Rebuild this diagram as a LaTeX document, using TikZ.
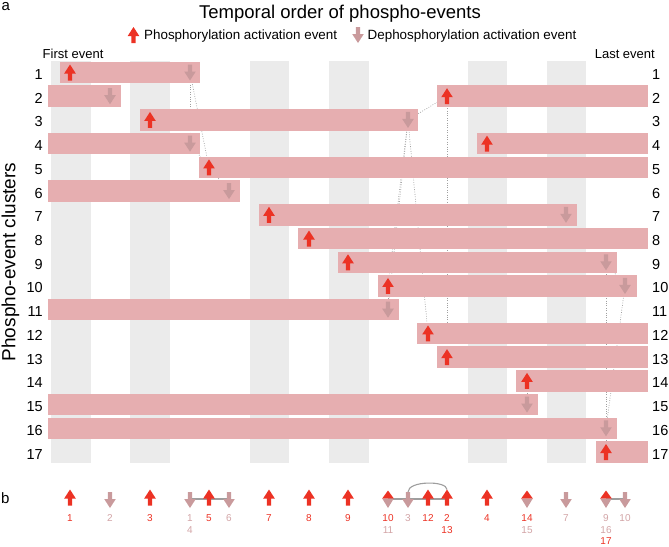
\documentclass[tikz,border=0pt]{standalone}
\usepackage{fontspec}
\setmainfont{Liberation Sans}
\definecolor{upred}{HTML}{EC3224}
\definecolor{dnpink}{HTML}{C99A9C}
\definecolor{barpink}{HTML}{E6AEB0}
\definecolor{stripegray}{HTML}{EBEBEB}
\definecolor{dotgray}{HTML}{A0A0A0}
\definecolor{linegray}{HTML}{9E9E9E}
\definecolor{lblpink}{HTML}{D2A4A6}
\newcommand\RY[1]{72.5+23.72*(#1-1)}
\newcommand\mkbar[4]{\node[bar, minimum width={(#3-#2)*1pt}] (#1) at ({(#2+#3)/2},{\RY{#4}}) {};}
\newcommand\ev[3]{\coordinate (#1) at (#2,{\RY{#3}});}
\begin{document}
\begin{tikzpicture}[x=1pt,y=-1pt,
  bar/.style={fill=barpink, draw=none, inner sep=0pt, minimum height=21.5pt},
  dotl/.style={draw=dotgray, line width=0.7pt, dash pattern=on 0.8pt off 1.6pt},
  bline/.style={draw=linegray, line width=1.1pt},
  rowlab/.style={inner sep=0pt, font=\fontsize{14.5}{16}\selectfont},
  evlab/.style={inner sep=0pt, font=\fontsize{10}{12}\selectfont},
  leglab/.style={inner sep=0pt, font=\fontsize{13.4}{15}\selectfont},
  uparr/.pic={\fill[upred] (0,-8) -- (5.8,1) -- (2.2,1) -- (2.2,8) -- (-2.2,8) -- (-2.2,1) -- (-5.8,1) -- cycle;},
  dnarr/.pic={\fill[dnpink] (0,8) -- (5.8,-1) -- (2.2,-1) -- (2.2,-8) -- (-2.2,-8) -- (-2.2,-1) -- (-5.8,-1) -- cycle;},
  comboarr/.pic={\fill[upred] (0,-8) -- (5.8,0) -- (-5.8,0) -- cycle; \fill[dnpink] (-5.8,0) -- (5.8,0) -- (0,9.5) -- cycle;}
]
\useasboundingbox (0,0) rectangle (669,546);

% headings
\node[inner sep=0pt, anchor=base west, font=\fontsize{15}{17}\selectfont] (lbla) at (1.5,10.5) {a};
\node[inner sep=0pt, anchor=base, font=\fontsize{18.5}{20}\selectfont] (title) at (340,18.5) {Temporal order of phospho-events};
\coordinate (legup) at (133.5,35);
\coordinate (legdn) at (358,35);
\pic at (legup) {uparr};
\pic at (legdn) {dnarr};
\node[leglab, anchor=base west] (legt1) at (144,39.5) {Phosphorylation activation event};
\node[leglab, anchor=base west] (legt2) at (367.5,39.5) {Dephosphorylation activation event};
\node[inner sep=0pt, anchor=base west, font=\fontsize{13}{15}\selectfont] (first) at (42.5,58.5) {First event};
\node[inner sep=0pt, anchor=base east, font=\fontsize{13}{15}\selectfont] (last) at (655,58.5) {Last event};
\node[inner sep=0pt, anchor=base, rotate=90, font=\fontsize{19}{21}\selectfont] (ylab) at (15.5,262) {Phospho-event clusters};

% stripes
\foreach \a/\b in {51/91,130/170,250/289,329/369,468/507,547/586}
  \fill[stripegray] (\a,61) rectangle (\b,463);

% event coordinates
\ev{r1u}{70}{1}  \ev{r1d}{190}{1}
\ev{r2d}{110}{2} \ev{r2u}{447}{2}
\ev{r3u}{150}{3} \ev{r3d}{408}{3}
\ev{r4d}{190}{4} \ev{r4u}{487}{4}
\ev{r5u}{209}{5}
\ev{r6d}{229}{6}
\ev{r7u}{269}{7} \ev{r7d}{566}{7}
\ev{r8u}{309}{8}
\ev{r9u}{348}{9} \ev{r9d}{606}{9}
\ev{r10u}{388}{10} \ev{r10d}{625}{10}
\ev{r11d}{388}{11}
\ev{r12u}{428}{12}
\ev{r13u}{447}{13}
\ev{r14u}{527}{14}
\ev{r15d}{527}{15}
\ev{r16d}{606}{16}
\ev{r17u}{606}{17}

% dotted links (behind bars)
\draw[dotl] (r1d) -- (r4d);
\draw[dotl] (r1d) -- (r5u);
\draw[dotl] (r4d) -- (r5u);
\draw[dotl] (r5u) -- (r6d);
\draw[dotl] (r3d) -- (r2u);
\draw[dotl] (r2u) -- (r13u);
\draw[dotl] (r3d) -- (r10u);
\draw[dotl] (r3d) -- (r11d);
\draw[dotl] (r3d) -- (r12u);
\draw[dotl] (r10u) -- (r11d);
\draw[dotl] (r14u) -- (r15d);
\draw[dotl] (r9d) -- (r16d);
\draw[dotl] (r9d) -- (r10d);
\draw[dotl] (r10d) -- (r16d);
\draw[dotl] (r16d) -- (r17u);

% bars
\mkbar{bar1}{60}{200}{1}
\mkbar{bar2a}{48}{121}{2}
\mkbar{bar2b}{437}{648}{2}
\mkbar{bar3}{140}{418}{3}
\mkbar{bar4a}{48}{200}{4}
\mkbar{bar4b}{477}{648}{4}
\mkbar{bar5}{199}{648}{5}
\mkbar{bar6}{48}{240}{6}
\mkbar{bar7}{259}{577}{7}
\mkbar{bar8}{298}{648}{8}
\mkbar{bar9}{338}{617}{9}
\mkbar{bar10}{378}{637}{10}
\mkbar{bar11}{48}{399}{11}
\mkbar{bar12}{417}{648}{12}
\mkbar{bar13}{437}{648}{13}
\mkbar{bar14}{516}{648}{14}
\mkbar{bar15}{48}{538}{15}
\mkbar{bar16}{48}{617}{16}
\mkbar{bar17}{596}{648}{17}

% arrows on bars
\foreach \c in {r1u,r2u,r3u,r4u,r5u,r7u,r8u,r9u,r10u,r12u,r13u,r14u,r17u}
  \pic at (\c) {uparr};
\foreach \c in {r1d,r2d,r3d,r4d,r6d,r7d,r9d,r10d,r11d,r15d,r16d}
  \pic at (\c) {dnarr};

% row labels
\foreach \k in {1,...,17} {
  \node[rowlab, anchor=east] (L\k) at (43,{\RY{\k}+2}) {\k};
  \node[rowlab, anchor=west] (R\k) at (652,{\RY{\k}+2}) {\k};
}

% panel b
\node[inner sep=0pt, anchor=base west, font=\fontsize{15}{17}\selectfont] (lblb) at (1,503) {b};
\coordinate (s1) at (70,499);
\coordinate (s2) at (110,499);
\coordinate (s3) at (150,499);
\coordinate (s14) at (190,499);
\coordinate (s5) at (209,499);
\coordinate (s6) at (229,499);
\coordinate (s7) at (269,499);
\coordinate (s8) at (309,499);
\coordinate (s9) at (348,499);
\coordinate (s1011) at (388,499);
\coordinate (s3d) at (408,499);
\coordinate (s12) at (428,499);
\coordinate (s213) at (447,499);
\coordinate (s4) at (487,499);
\coordinate (s1415) at (527,499);
\coordinate (s7d) at (566,499);
\coordinate (s91617) at (606,499);
\coordinate (s10d) at (625,499);

\draw[bline] (s14) -- (s6);
\draw[bline] (s1011) -- (s213);
\draw[bline] (s91617) -- (s10d);
\draw[bline] ([yshift=7pt]s3d) .. controls ([yshift=18.5pt]s3d) and ([yshift=18.5pt]s213) .. ([yshift=9.5pt]s213);

\foreach \c in {s1,s3,s5,s7,s8,s9,s12,s213,s4}
  \pic[yshift=1.5pt] at (\c) {uparr};
\foreach \c in {s2,s14,s6,s3d,s7d,s10d}
  \pic[yshift=-1pt] at (\c) {dnarr};
\foreach \c in {s1011,s1415,s91617}
  \pic[yshift=0.5pt] at (\c) {comboarr};

% panel b labels
\node[evlab, text=upred] (t1) at (70,518) {1};
\node[evlab, text=lblpink] (t2) at (110,518) {2};
\node[evlab, text=upred] (t3) at (150,518) {3};
\node[evlab, text=lblpink] (t1b) at (190,518) {1};
\node[evlab, text=lblpink] (t4b) at (190,530) {4};
\node[evlab, text=upred] (t5) at (209,518) {5};
\node[evlab, text=lblpink] (t6) at (229,518) {6};
\node[evlab, text=upred] (t7) at (269,518) {7};
\node[evlab, text=upred] (t8) at (309,518) {8};
\node[evlab, text=upred] (t9) at (348,518) {9};
\node[evlab, text=upred] (t10) at (388,518) {10};
\node[evlab, text=lblpink] (t11) at (388,530) {11};
\node[evlab, text=lblpink] (t3b) at (408,518) {3};
\node[evlab, text=upred] (t12) at (428,518) {12};
\node[evlab, text=upred] (t2b) at (447,518) {2};
\node[evlab, text=upred] (t13) at (447,530) {13};
\node[evlab, text=upred] (t4) at (487,518) {4};
\node[evlab, text=upred] (t14) at (527,518) {14};
\node[evlab, text=lblpink] (t15) at (527,530) {15};
\node[evlab, text=lblpink] (t7b) at (566,518) {7};
\node[evlab, text=lblpink] (t9b) at (606,518) {9};
\node[evlab, text=lblpink] (t16) at (606,530) {16};
\node[evlab, text=upred] (t17) at (606,541) {17};
\node[evlab, text=lblpink] (t10b) at (625,518) {10};
\end{tikzpicture}
\end{document}
